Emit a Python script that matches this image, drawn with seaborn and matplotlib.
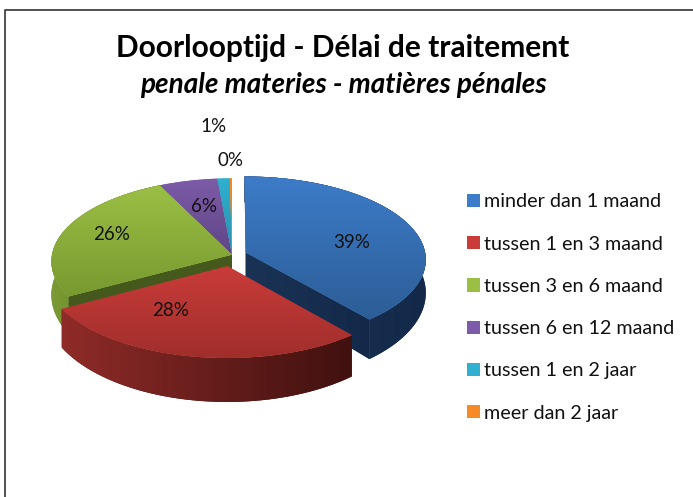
import numpy as np
import matplotlib
matplotlib.use("Agg")
import matplotlib.pyplot as plt
import seaborn as sns
from matplotlib.patches import Patch, Polygon
from matplotlib.transforms import Transform

categories = ["minder dan 1 maand", "tussen 1 en 3 maand", "tussen 3 en 6 maand",
              "tussen 6 en 12 maand", "tussen 1 en 2 jaar", "meer dan 2 jaar"]
shares = [38.9, 28.0, 26.0, 5.7, 1.2, 0.2]

colors = ["#3d7cc9", "#c93c3a", "#9bbf45", "#7d5ba8", "#2fb0d0", "#f58a26"]
top_dark = ["#2c5d96", "#a02e2b", "#78992f", "#5f4585", "#2a90ad", "#d9781c"]
side_left = ["#1a3557", "#8f2b28", "#7a9a33", "#4a3468", "#1f6e85", "#a85a14"]
side_right = ["#14294a", "#40110f", "#5f7a25", "#4a3468", "#1f6e85", "#a85a14"]

sns.set_theme(style="white")
plt.rcParams["font.family"] = ["Lato", "DejaVu Sans"]

# pie centre and tilt, in pixels of the figure
CX, CY = 232.0, 242.3
RX, RY, PERSP = 180.0, 82.5, 0.081


def scale(y):
    return 1.0 / (1.0 + PERSP * y)


def tilt(xy):
    xy = np.asarray(xy, dtype=float)
    s = scale(xy[:, 1])
    return np.column_stack([CX + RX * xy[:, 0] * s, CY + RY * xy[:, 1] * s])


def depth(xy):
    s = scale(np.asarray(xy)[:, 1])
    return 38.0 * (s / 1.05) ** 3


class Tilt(Transform):
    input_dims = 2
    output_dims = 2

    def transform_non_affine(self, values):
        return tilt(values)


fig = plt.figure(figsize=(6.93, 4.97), dpi=100)
ax = fig.add_axes([0, 0, 1, 1])

wedges, _ = ax.pie(shares, colors=colors, startangle=90, counterclock=False,
                   explode=[0.08, 0.14, 0, 0, 0, 0], radius=1, center=(0, 0))
to_screen = Tilt() + ax.transData


def gradient(clip, low, high, box, horizontal, z):
    cmap = sns.blend_palette([low, high], n_colors=64, as_cmap=True)
    ramp = np.linspace(0, 1, 128)
    ramp = ramp[None, :] if horizontal else ramp[:, None]
    im = ax.imshow(ramp, cmap=cmap, extent=box, origin="upper", aspect="auto",
                   interpolation="bilinear", zorder=z)
    im.set_clip_path(clip)


def extrude(points, low, high, z):
    points = np.asarray(points)
    screen = tilt(points)
    lower = screen - np.column_stack([np.zeros(len(screen)), depth(points)])
    outline = np.vstack([screen, lower[::-1]])
    poly = Polygon(outline, closed=True, facecolor=high, edgecolor="none", zorder=z)
    ax.add_patch(poly)
    box = (outline[:, 0].min(), outline[:, 0].max(), outline[:, 1].min(), outline[:, 1].max())
    gradient(poly, low, high, box, True, z + 0.1)


z = 2
for i in [3, 4, 5, 2, 0, 1]:
    w = wedges[i]
    cx, cy = w.center
    ang = np.radians(np.linspace(w.theta1, w.theta2, 120))
    arc = np.column_stack([cx + np.cos(ang), cy + np.sin(ang)])
    apex = np.array([cx, cy])

    if i == 2:  # green: cut face in front of the apex
        edge = np.linspace(apex, arc[-1], 30)
        extrude(edge, "#46591d", "#46591d", z)
    if i == 0:  # blue: cut face runs to the front corner
        edge = np.linspace(apex, arc[0], 30)
        extrude(edge, "#1a3355", "#14294a", z)
    if i in (0, 1, 2):
        extrude(arc, side_left[i], side_right[i], z + 0.3)

    w.set_transform(to_screen)
    w.set_zorder(z + 0.5)
    w.set_edgecolor("none")
    w.set_facecolor(sns.blend_palette([colors[i], top_dark[i]], 3)[1])
    pts = tilt(np.vstack([arc, apex]))
    box = (pts[:, 0].min(), pts[:, 0].max(), pts[:, 1].min(), pts[:, 1].max())
    gradient(w, colors[i], top_dark[i], box, False, z + 0.6)
    z += 1

# percent labels
label_xy = [(352, 254), (171, 186), (112, 262), (204, 291), (213, 370.5), (231, 336.5)]
for share, (lx, ly) in zip(shares, label_xy):
    ax.text(lx, ly, f"{share:.0f}%", ha="center", va="center", fontsize=13.5,
            color="#111111", zorder=50)

# frame, open on the right and at the bottom like the source
ax.plot([5, 5, 693], [0, 487, 487], color="#333333", lw=1.2, zorder=60)

ax.text(343, 449, "Doorlooptijd - Délai de traitement", ha="center", va="center",
        fontsize=21.5, fontweight="bold", color="black")
ax.text(343, 412, "penale materies - matières pénales", ha="center", va="center",
        fontsize=20.1, fontweight="bold", fontstyle="italic", color="black")

handles = [Patch(facecolor=c, edgecolor="none") for c in colors]
ax.legend(handles, categories, loc="upper left", bbox_to_anchor=(459 / 693, 1 - 185.5 / 497),
          frameon=False, fontsize=14.2, handlelength=0.65, handleheight=0.65,
          handletextpad=0.2, labelspacing=1.28, labelcolor="#111111", borderaxespad=0)

ax.set_xlim(0, 693)
ax.set_ylim(0, 497)
ax.set_aspect("auto")
ax.axis("off")

fig.savefig("out.png", dpi=100)
